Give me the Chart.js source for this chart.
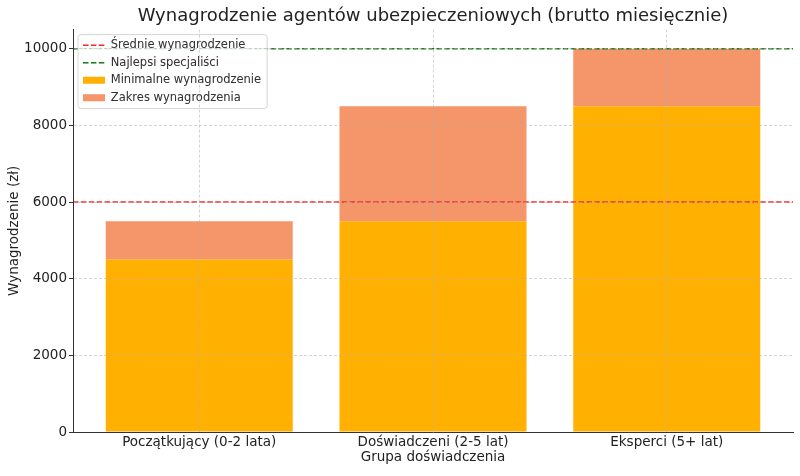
<!DOCTYPE html>
<html>
<head>
<meta charset="utf-8">
<script src="https://cdn.jsdelivr.net/npm/chart.js@4/dist/chart.umd.min.js"></script>
<style>
    body { margin: 0; background: #fff; }
    canvas { display: block; }
</style>
</head>
<body>
<canvas id="salaryChart" width="800" height="476"></canvas>
<script>
// ==================== DATA ====================
const categories = ['Początkujący (0-2 lata)', 'Doświadczeni (2-5 lat)', 'Eksperci (5+ lat)'];
const minSalary = [4500, 5500, 8500];
const maxSalary = [5500, 8500, 10000];
const averageSalary = 6000;
const topSpecialists = 10000;
const yTicks = [0, 2000, 4000, 6000, 8000, 10000];

// axis limits (matplotlib style margins around the bars)
const X_MIN = -0.54, X_MAX = 2.54;

Chart.defaults.font.family = "'DejaVu Sans', sans-serif";
Chart.defaults.color = '#222';

const gridColor = 'rgba(176,176,176,0.55)';

// ==================== LEGEND FRAME ====================
// legend sits inside the plot, in a white rounded box drawn over the datasets
const legendFrame = {
    id: 'legendFrame',
    afterUpdate(chart) {
        const lg = chart.legend;
        if(!lg) return;
        const dx = chart.chartArea.left + 4 - lg.left;
        const dy = chart.chartArea.top + 4 - lg.top;
        lg.left += dx; lg.right += dx;
        lg.top += dy; lg.bottom += dy;
        lg.legendHitBoxes.forEach(b => { b.left += dx; b.top += dy; });
    },
    afterDatasetsDraw(chart) {
        const lg = chart.legend;
        if(!lg || !lg.legendHitBoxes.length) return;
        const boxes = lg.legendHitBoxes;
        const left = Math.min(...boxes.map(b => b.left)) - 5;
        const top = Math.min(...boxes.map(b => b.top)) - 5;
        const right = Math.max(...boxes.map(b => b.left + b.width)) + 6;
        const bottom = Math.max(...boxes.map(b => b.top + b.height)) + 5;
        const ctx = chart.ctx;
        ctx.save();
        ctx.beginPath();
        ctx.roundRect(left, top, right - left, bottom - top, 3);
        ctx.fillStyle = 'rgba(255,255,255,0.85)';
        ctx.fill();
        ctx.strokeStyle = '#d6d6d6';
        ctx.lineWidth = 1;
        ctx.stroke();
        ctx.restore();
        lg.draw();
    }
};

// ==================== CHART ====================
new Chart(document.getElementById('salaryChart').getContext('2d'), {
    type: 'bar',
    data: {
        datasets: [
            {
                type: 'line',
                label: 'Średnie wynagrodzenie',
                data: [{ x: X_MIN, y: averageSalary }, { x: X_MAX, y: averageSalary }],
                borderColor: '#ee3030',
                borderWidth: 1.5,
                borderDash: [5.5, 2.4],
                pointRadius: 0,
                order: 0
            },
            {
                type: 'line',
                label: 'Najlepsi specjaliści',
                data: [{ x: X_MIN, y: topSpecialists }, { x: X_MAX, y: topSpecialists }],
                borderColor: '#1f7a1f',
                borderWidth: 1.5,
                borderDash: [5.5, 2.4],
                pointRadius: 0,
                order: 0
            },
            {
                label: 'Minimalne wynagrodzenie',
                data: categories.map((c, i) => ({ x: i, y: minSalary[i] })),
                backgroundColor: '#ffb000',
                barPercentage: 0.8,
                categoryPercentage: 1,
                grouped: false,
                order: 2
            },
            {
                label: 'Zakres wynagrodzenia',
                data: categories.map((c, i) => ({ x: i, y: [minSalary[i], maxSalary[i]] })),
                backgroundColor: '#f5956a',
                barPercentage: 0.8,
                categoryPercentage: 1,
                grouped: false,
                order: 2
            }
        ]
    },
    options: {
        responsive: false,
        animation: false,
        layout: { padding: { left: 0, right: 7, top: 1, bottom: 2 } },
        plugins: {
            tooltip: { enabled: false },
            title: {
                display: true,
                text: 'Wynagrodzenie agentów ubezpieczeniowych (brutto miesięcznie)',
                fullSize: false,
                font: { size: 18, weight: 'normal' },
                color: '#222',
                padding: { top: 5, bottom: 2 }
            },
            legend: {
                display: true,
                position: 'chartArea',
                align: 'start',
                labels: {
                    usePointStyle: true,
                    pointStyleWidth: 22,
                    boxHeight: 7,
                    padding: 6,
                    font: { size: 11.5 },
                    color: '#333',
                    generateLabels(chart) {
                        return chart.data.datasets.map((ds, i) => {
                            const isLine = ds.type === 'line';
                            return {
                                text: ds.label,
                                fillStyle: isLine ? 'rgba(0,0,0,0)' : ds.backgroundColor,
                                strokeStyle: isLine ? ds.borderColor : ds.backgroundColor,
                                lineWidth: isLine ? 1.5 : 0,
                                lineDash: isLine ? ds.borderDash : [],
                                pointStyle: isLine ? 'line' : 'rect',
                                fontColor: '#333',
                                hidden: !chart.isDatasetVisible(i),
                                datasetIndex: i
                            };
                        });
                    }
                }
            }
        },
        scales: {
            x: {
                type: 'linear',
                min: X_MIN,
                max: X_MAX,
                offset: false,
                afterBuildTicks: scale => { scale.ticks = categories.map((c, i) => ({ value: i })); },
                afterFit: scale => { scale.height = 42; },
                ticks: {
                    callback: v => categories[v],
                    maxRotation: 0,
                    autoSkip: false,
                    padding: 2,
                    font: { size: 13.5 },
                    color: '#222'
                },
                grid: { color: gridColor, drawTicks: false, offset: false, z: 1 },
                border: { color: '#333', width: 1, dash: [3, 2], z: 2 },
                title: {
                    display: true,
                    text: 'Grupa doświadczenia',
                    font: { size: 13.5 },
                    color: '#222',
                    padding: { top: 0, bottom: 8 }
                }
            },
            y: {
                min: 0,
                max: 10500,
                afterBuildTicks: scale => { scale.ticks = yTicks.map(v => ({ value: v })); },
                afterFit: scale => { scale.width = 73; },
                ticks: { callback: v => String(v), padding: 2, font: { size: 13.5 }, color: '#222' },
                grid: { color: gridColor, tickColor: '#333', tickLength: 4, tickBorderDash: [], z: 1 },
                border: { color: '#333', width: 1, dash: [3, 2], z: 2 },
                title: {
                    display: true,
                    text: 'Wynagrodzenie (zł)',
                    font: { size: 13.5 },
                    color: '#222',
                    padding: { top: 6, bottom: 0 }
                }
            }
        }
    },
    plugins: [legendFrame]
});
</script>
</body>
</html>
